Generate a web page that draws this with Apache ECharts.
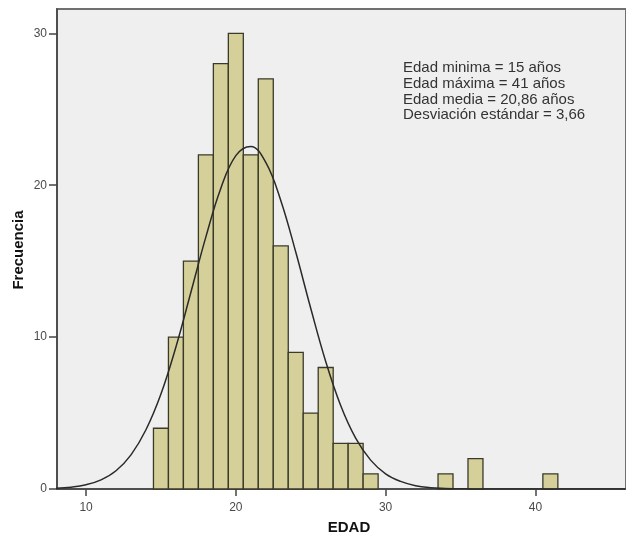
<!DOCTYPE html>
<html>
<head>
<meta charset="utf-8">
<script src="https://cdn.jsdelivr.net/npm/echarts@6/dist/echarts.min.js"></script>
<style>
  html, body { margin: 0; padding: 0; background: #fff; }
  #chart { width: 626px; height: 540px; }
</style>
</head>
<body>
<div id="chart"></div>
<script>
// histogram bins (age, count)
var ages = [15, 16, 17, 18, 19, 20, 21, 22, 23, 24, 25, 26, 27, 28, 29, 34, 36, 41]
var counts = [4, 10, 15, 22, 28, 30, 22, 27, 16, 9, 5, 8, 3, 3, 1, 1, 2, 1]

// normal curve
var curveX = [8, 9, 10, 11, 12, 13, 14, 15, 16, 17, 18, 19, 20, 21, 22, 23, 24, 25, 26, 27, 28, 29, 30, 31, 32, 33, 34, 35, 36, 46]
var curveY = [0.05, 0.12, 0.28, 0.6, 1.2, 2.25, 3.9, 6.25, 9.35, 12.95, 16.6, 19.8, 21.95, 22.55, 21.5, 19, 15.6, 11.9, 8.4, 5.5, 3.35, 1.9, 1, 0.5, 0.22, 0.09, 0.04, 0.01, 0, 0]

var xTicks = [10, 20, 30, 40]
var yTicks = [0, 10, 20, 30]

var notes = [
  'Edad minima = 15 años',
  'Edad máxima = 41 años',
  'Edad media = 20,86 años',
  'Desviación estándar = 3,66'
]

var chart = echarts.init(document.getElementById('chart'))

var font = 'Liberation Sans, Arial, sans-serif'

var barData = ages.map(function (a, i) { return [a, counts[i]] })
var curveData = curveX.map(function (x, i) { return [x, curveY[i]] })

var option = {
  backgroundColor: '#fff',
  animation: false,
  grid: {
    left: 57,
    top: 9,
    right: 0,
    bottom: 47,
    show: true,
    backgroundColor: '#efefef',
    borderColor: '#707070',
    borderWidth: 2
  },
  xAxis: {
    type: 'value',
    min: 8.06,
    max: 46.05,
    name: 'EDAD',
    nameLocation: 'middle',
    nameGap: 31,
    nameTextStyle: { fontFamily: font, fontWeight: 'bold', fontSize: 15, color: '#111', padding: [0, 0, 0, 15] },
    splitLine: { show: false },
    axisLine: { show: true, onZero: false, lineStyle: { color: '#444', width: 1.5 } },
    axisTick: { show: true, length: 7, customValues: xTicks, lineStyle: { color: '#444', width: 1.5 } },
    axisLabel: { customValues: xTicks, color: '#4a4a4a', fontFamily: font, fontSize: 12, margin: 13 }
  },
  yAxis: {
    type: 'value',
    min: 0,
    max: 31.6,
    splitLine: { show: false },
    axisLine: { show: true, lineStyle: { color: '#444', width: 1.5 } },
    axisTick: { show: true, length: 8, customValues: yTicks, lineStyle: { color: '#444', width: 1.5 } },
    axisLabel: { customValues: yTicks, color: '#4a4a4a', fontFamily: font, fontSize: 12, margin: 10 }
  },
  graphic: [
    {
      type: 'text',
      x: 19,
      y: 250,
      rotation: Math.PI / 2,
      style: {
        text: 'Frecuencia',
        fill: '#111',
        font: 'bold 15px ' + font,
        align: 'center',
        verticalAlign: 'middle'
      }
    },
    {
      type: 'text',
      left: 403,
      top: 60,
      z: 100,
      style: {
        text: notes.join('\n'),
        fill: '#333',
        font: '15px ' + font,
        lineHeight: 15.8
      }
    }
  ],
  series: [
    {
      type: 'custom',
      data: barData,
      renderItem: function (params, api) {
        var x = api.value(0)
        var y = api.value(1)
        var p0 = api.coord([x - 0.5, y])
        var p1 = api.coord([x + 0.5, 0])
        return {
          type: 'rect',
          shape: { x: p0[0], y: p0[1], width: p1[0] - p0[0], height: p1[1] - p0[1] },
          style: { fill: '#d5d09a', stroke: '#3a3a2a', lineWidth: 1.3 }
        }
      }
    },
    {
      type: 'line',
      data: curveData,
      smooth: 0.4,
      showSymbol: false,
      z: 5,
      lineStyle: { color: '#2a2a2a', width: 1.5 }
    }
  ]
}

chart.setOption(option)
</script>
</body>
</html>
